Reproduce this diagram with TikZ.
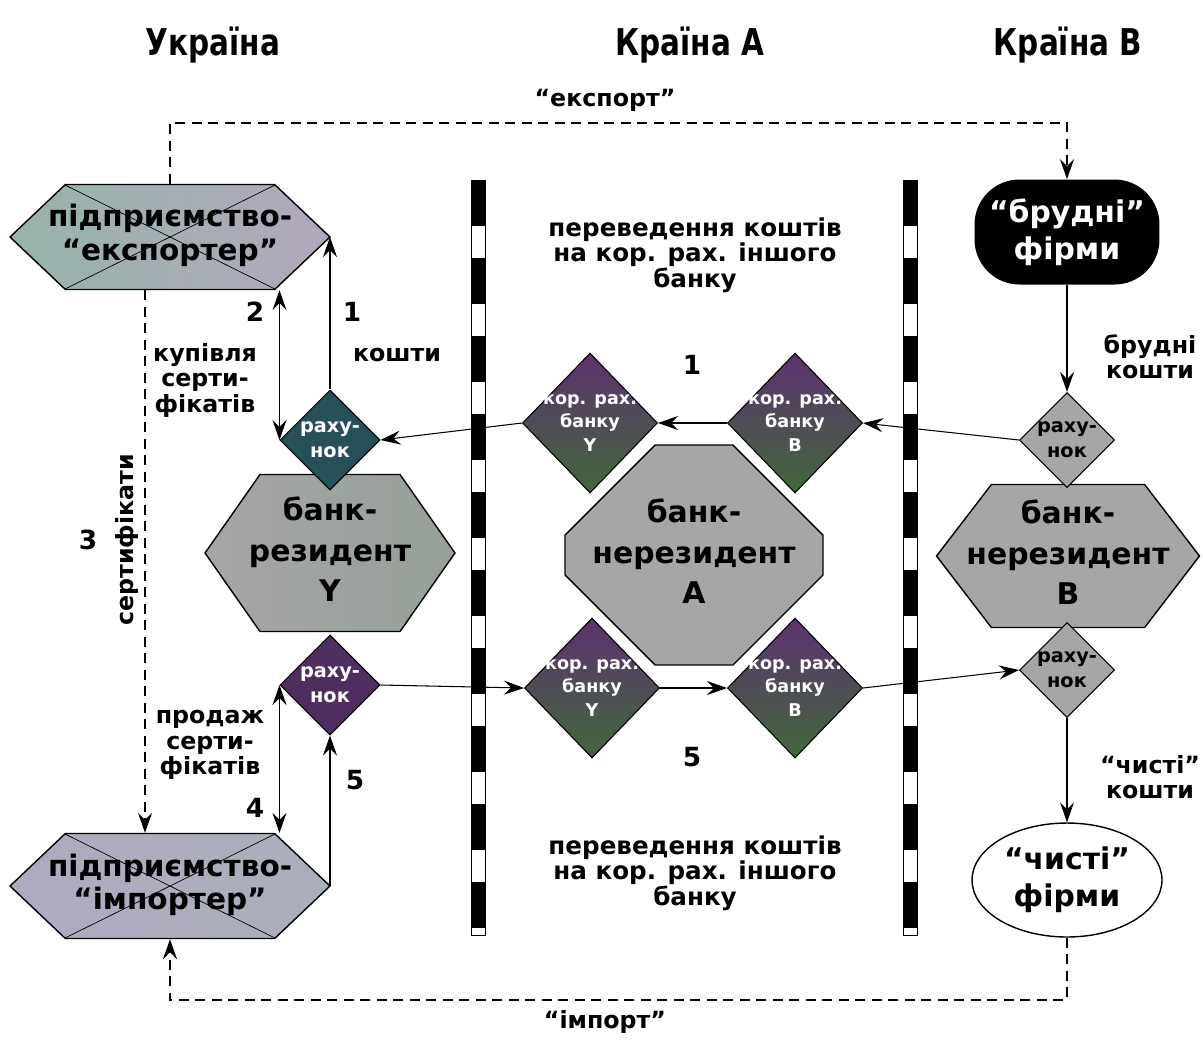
\documentclass[tikz,border=0pt]{standalone}
\usepackage{fontspec}
\setmainfont{DejaVu Sans}
\newfontfamily\condfont{DejaVu Sans}[FakeStretch=0.8]
\usetikzlibrary{arrows.meta,calc,shapes.geometric,shapes.misc,shapes.symbols}

\definecolor{expfill}{RGB}{150,180,170}
\definecolor{expfillb}{RGB}{178,168,188}
\definecolor{impfill}{RGB}{176,170,192}
\definecolor{impfillb}{RGB}{170,176,186}
\definecolor{bankfill}{RGB}{166,166,168}
\definecolor{bankfillb}{RGB}{150,160,152}
\definecolor{accteal}{RGB}{38,80,88}
\definecolor{accplum}{RGB}{78,46,96}
\definecolor{korplum}{RGB}{92,50,110}
\definecolor{korgreen}{RGB}{66,104,60}

% text of a shape, kept out of the shape size
\newcommand{\dtxt}[2][0pt]{\makebox[#1]{\begin{tabular}{@{}c@{}}#2\end{tabular}}}

\tikzset{
  >={Stealth[length=0.4cm,width=0.28cm,inset=0.14cm]},
  flow/.style={line width=0.6pt,->},
  twoway/.style={line width=0.6pt,<->},
  goods/.style={line width=1.3pt,dash pattern=on 0.2cm off 0.13cm},
  lbl/.style={font=\fontsize{13.5}{14.5}\selectfont\bfseries,align=center},
  num/.style={font=\fontsize{15}{16}\selectfont\bfseries},
  head/.style={font=\condfont\fontsize{21}{23}\selectfont\bfseries},
  xcross/.style={path picture={
    \draw[line width=0.4pt]
      ($(path picture bounding box.center)+(-105,-52)$) -- ($(path picture bounding box.center)+(105,52)$)
      ($(path picture bounding box.center)+(105,-52)$) -- ($(path picture bounding box.center)+(-105,52)$);}},
  firm/.style={signal,signal to=west and east,draw,line width=0.8pt,inner sep=0pt,
    minimum width=6.4cm,minimum height=2.1cm,signal pointer angle=87,xcross,
    font=\fontsize{16.8}{19}\selectfont\bfseries},
  bank/.style={signal,signal to=west and east,draw,line width=0.8pt,inner sep=0pt,
    font=\fontsize{17}{23}\selectfont\bfseries},
  acct/.style={diamond,draw,line width=0.6pt,inner sep=0pt,minimum size=2cm,
    font=\fontsize{11}{14}\selectfont\bfseries},
  kor/.style={diamond,draw,line width=0.6pt,inner sep=0pt,minimum width=2.7cm,
    minimum height=2.8cm,text=white,top color=korplum,bottom color=korgreen,
    font=\fontsize{10}{13.5}\selectfont\bfseries},
  border/.style={line width=0.28cm,dash pattern=on 0.92cm off 0.64cm},
}

\begin{document}
\begin{tikzpicture}[x=0.02cm,y=-0.02cm]
\useasboundingbox (0,0) rectangle (1203,1039);

% country headings
\node[head] (hUA) at (213,45) {Україна};
\node[head] (hA) at (690,45) {Країна А};
\node[head] (hB) at (1068,45) {Країна В};

% borders
\draw[line width=0.4pt] (471,180) rectangle (485,935);
\draw[border] (478,180) -- (478,935);
\draw[line width=0.4pt] (903,180) rectangle (917,935);
\draw[border] (910,180) -- (910,935);

% Ukraine
\node[firm,left color=expfill,right color=expfillb] (exp) at (170,237) {\dtxt{підприємство-\\“експортер”}};
\node[bank,minimum width=5cm,minimum height=3.14cm,signal pointer angle=110,
  left color=bankfill,right color=bankfillb] (bY) at (330,553) {\dtxt{банк-\\резидент\\Y}};
\node[acct,text=white,fill=accteal] (rY) at (330,440) {\dtxt{раху-\\нок}};
\node[acct,text=white,fill=accplum] (rY2) at (330,685) {\dtxt{раху-\\нок}};
\node[firm,left color=impfill,right color=impfillb] (imp) at (170,886) {\dtxt{підприємство-\\“імпортер”}};

\draw[flow] (rY.north) -- (rY.north |- exp.east);
\draw[twoway] (rY.west |- exp.south) -- (rY.west);
\draw[twoway] (rY2.west) -- (rY2.west |- imp.north);
\draw[flow] (rY2.south |- imp.east) -- (rY2.south);
\draw[goods,->] ([xshift=-0.5cm]exp.south) -- ([xshift=-0.5cm]imp.north);

\node[num] (n1) at (352,312) {1};
\node[lbl] (l1) at (397,355) {кошти};
\node[num] (n2) at (255,312) {2};
\node[lbl] (l2) at (205,380) {купівля\\серти-\\фікатів};
\node[num] (n3) at (88,540) {3};
\node[lbl,rotate=90] (l3) at (127,540) {сертифікати};
\node[num] (n4) at (255,808) {4};
\node[lbl] (l4) at (210,745) {продаж\\серти-\\фікатів};
\node[num] (n5) at (355,780) {5};

% country A
\node[chamfered rectangle,chamfered rectangle xsep=0.9cm,chamfered rectangle ysep=0.9cm,
  draw,line width=0.8pt,minimum height=4.4cm,inner sep=0pt,
  fill=bankfill,font=\fontsize{17}{23}\selectfont\bfseries] (bA) at (694,555) {\dtxt[3.36cm]{банк-\\нерезидент\\А}};
\node[kor] (kYt) at (590,423) {\dtxt{кор. рах.\\банку\\Y}};
\node[kor] (kBt) at (795,423) {\dtxt{кор. рах.\\банку\\В}};
\node[kor] (kYb) at (592,688) {\dtxt{кор. рах.\\банку\\Y}};
\node[kor] (kBb) at (795,688) {\dtxt{кор. рах.\\банку\\В}};

\node[lbl,font=\fontsize{14}{14.5}\selectfont\bfseries] (tr1) at (695,255) {переведення коштів\\на кор. рах. іншого\\банку};
\node[num] (c1) at (692,365) {1};
\node[num] (c5) at (692,757) {5};
\node[lbl,font=\fontsize{14}{14.5}\selectfont\bfseries] (tr5) at (695,873) {переведення коштів\\на кор. рах. іншого\\банку};

% country B
\node[rectangle,rounded corners=0.9cm,fill=black,text=white,minimum width=3.7cm,
  minimum height=2.1cm,font=\fontsize{17}{21}\selectfont\bfseries,align=center] (bf) at (1067,232) {“брудні”\\фірми};
\node[bank,minimum width=5.26cm,minimum height=2.86cm,signal pointer angle=105,
  fill=bankfill] (bB) at (1068,556) {\dtxt{банк-\\нерезидент\\В}};
\node[acct,fill=bankfill,minimum size=1.9cm] (rBt) at (1067,440) {\dtxt{раху-\\нок}};
\node[acct,fill=bankfill,minimum size=1.9cm] (rBb) at (1067,670) {\dtxt{раху-\\нок}};
\node[ellipse,draw,line width=0.8pt,minimum width=3.8cm,minimum height=2.28cm,inner sep=0pt,
  font=\fontsize{17}{21}\selectfont\bfseries,align=center] (cf) at (1067,880) {“чисті”\\фірми};

\draw[flow] (bf.south) -- (rBt.north);
\draw[flow] (rBb.south) -- (cf.north);
\node[lbl] (l6) at (1150,357) {брудні\\кошти};
\node[lbl] (l7) at (1150,777) {“чисті”\\кошти};

% money through the correspondent accounts
\draw[flow] (rBt.west) -- (kBt.east);
\draw[flow] (kBt.west) -- (kYt.east);
\draw[flow] (kYt.west) -- (rY.east);
\draw[flow] (rY2.east) -- (kYb.west);
\draw[flow] (kYb.east) -- (kBb.west);
\draw[flow] (kBb.east) -- (rBb.west);

% export and import
\coordinate (exrail) at (600,123);
\coordinate (imrail) at (600,1000);
\draw[goods,->] (exp.north) -- (exp.north |- exrail) -| (bf.north);
\node[lbl] (lex) at (605,100) {“експорт”};
\draw[goods,->] (cf.south) -- (cf.south |- imrail) -| (imp.south);
\node[lbl] (lim) at (605,1022) {“імпорт”};
\end{tikzpicture}
\end{document}
